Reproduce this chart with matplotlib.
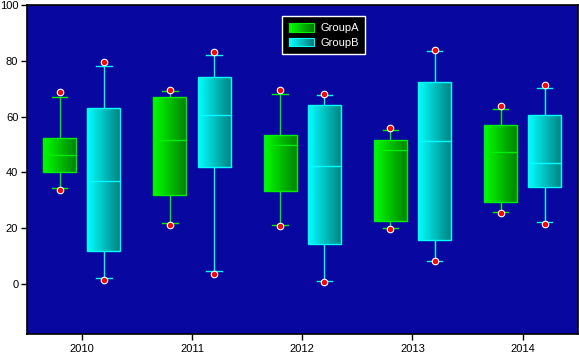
import numpy as np
import matplotlib
matplotlib.use("Agg")
import matplotlib.pyplot as plt
from matplotlib.patches import Rectangle
from matplotlib.legend_handler import HandlerBase
from matplotlib.colors import LinearSegmentedColormap

plt.rcParams['font.family'] = ['Liberation Sans', 'DejaVu Sans']

years = ['2010', '2011', '2012', '2013', '2014']
# GroupA stats
a_max = [68.8, 69.7, 69.7, 55.9, 63.8]
a_whishi = [67.1, 69.3, 68.2, 55.4, 62.9]
a_q3 = [52.5, 67.1, 53.6, 51.8, 57.1]
a_med = [46.1, 51.8, 50.0, 47.9, 47.5]
a_q1 = [40.0, 32.0, 33.4, 22.5, 29.3]
a_whislo = [34.3, 21.8, 21.1, 20.0, 25.7]
a_min = [33.7, 21.2, 20.6, 19.8, 25.6]
# GroupB stats
b_max = [79.5, 83.1, 68.3, 84.1, 71.4]
b_whishi = [78.2, 82.1, 67.9, 83.6, 70.4]
b_q3 = [63.2, 74.3, 64.1, 72.5, 60.7]
b_med = [36.8, 60.7, 42.3, 51.1, 43.2]
b_q1 = [11.8, 42.1, 14.3, 15.7, 34.8]
b_whislo = [2.1, 4.6, 1.1, 8.3, 22.1]
b_min = [1.3, 3.4, 0.6, 8.1, 21.3]

groups = [
    dict(name='GroupA', mx=a_max, hi=a_whishi, q3=a_q3, med=a_med, q1=a_q1, lo=a_whislo, mn=a_min,
         c0='#00ff00', c1='#008000', edge='#00ee00', off=-0.2),
    dict(name='GroupB', mx=b_max, hi=b_whishi, q3=b_q3, med=b_med, q1=b_q1, lo=b_whislo, mn=b_min,
         c0='#00ffff', c1='#008080', edge='#00ffff', off=0.2),
]

fig = plt.figure(figsize=(5.79, 3.53), dpi=100)
ax = fig.add_axes([0.046, 0.054, 0.952, 0.931])
ax.set_facecolor('#0808a0')

width = 0.3
grad = np.linspace(0, 1, 64).reshape(1, -1)
x = np.arange(len(years))

for g in groups:
    stats = []
    for i in range(len(years)):
        stats.append(dict(med=g['med'][i], q1=g['q1'][i], q3=g['q3'][i],
                          whislo=g['lo'][i], whishi=g['hi'][i], fliers=[]))
    pos = x + g['off']
    bp = ax.bxp(stats, positions=pos, widths=width, patch_artist=True,
                capwidths=0.14, manage_ticks=False,
                boxprops=dict(facecolor='none', edgecolor=g['edge'], linewidth=1.0),
                whiskerprops=dict(color=g['edge'], linewidth=1.0),
                capprops=dict(color=g['edge'], linewidth=1.0),
                medianprops=dict(color=g['edge'], linewidth=1.0))
    cmap = LinearSegmentedColormap.from_list(g['name'], [g['c0'], g['c1']])
    for i, box in enumerate(bp['boxes']):
        box.set_zorder(4)
        im = ax.imshow(grad, cmap=cmap, aspect='auto', zorder=3,
                       extent=[pos[i] - width / 2, pos[i] + width / 2, g['q1'][i], g['q3'][i]],
                       interpolation='bilinear')
        im.set_clip_path(box)
    for m in bp['medians']:
        m.set_zorder(5)
    ax.scatter(pos, g['mx'], s=22, color='red', edgecolors='white', linewidths=0.8, zorder=6)
    ax.scatter(pos, g['mn'], s=22, color='red', edgecolors='white', linewidths=0.8, zorder=6)

ax.set_xlim(-0.5, 4.5)
ax.set_ylim(-18, 100)
ax.set_xticks(x)
ax.set_xticklabels(years)
ax.set_yticks([0, 20, 40, 60, 80, 100])
ax.tick_params(labelsize=8, colors='black', length=4, width=1)
ax.tick_params(axis='y', pad=2)
for s in ax.spines.values():
    s.set_color('black')
    s.set_linewidth(1.2)


class GradHandler(HandlerBase):
    def __init__(self, c0, c1, edge):
        super().__init__()
        self.c0, self.c1, self.edge = c0, c1, edge

    def create_artists(self, legend, orig_handle, xdescent, ydescent, width, height, fontsize, trans):
        cmap = LinearSegmentedColormap.from_list('h', [self.c0, self.c1])
        arts = []
        n = 20
        for k in range(n):
            r = Rectangle((-xdescent + width * k / n, -ydescent), width / n + 0.3, height,
                          facecolor=cmap(k / (n - 1)), edgecolor='none', transform=trans)
            arts.append(r)
        arts.append(Rectangle((-xdescent, -ydescent), width, height, facecolor='none',
                              edgecolor=self.edge, linewidth=0.8, transform=trans))
        return arts


hA = Rectangle((0, 0), 1, 1)
hB = Rectangle((0, 0), 1, 1)
leg = ax.legend([hA, hB], ['GroupA', 'GroupB'],
                handler_map={hA: GradHandler('#00ff00', '#008000', '#00ee00'),
                             hB: GradHandler('#00ffff', '#008080', '#00ffff')},
                loc='upper left', bbox_to_anchor=(0.454, 0.983), fontsize=8,
                frameon=True, fancybox=False, facecolor='black', edgecolor='white',
                framealpha=1, labelcolor='white', handlelength=2.2, handleheight=0.8,
                borderpad=0.6, labelspacing=0.4, handletextpad=0.6)
leg.get_frame().set_linewidth(1.0)
leg.set_zorder(10)

fig.savefig('out.png', dpi=100, facecolor='white')
